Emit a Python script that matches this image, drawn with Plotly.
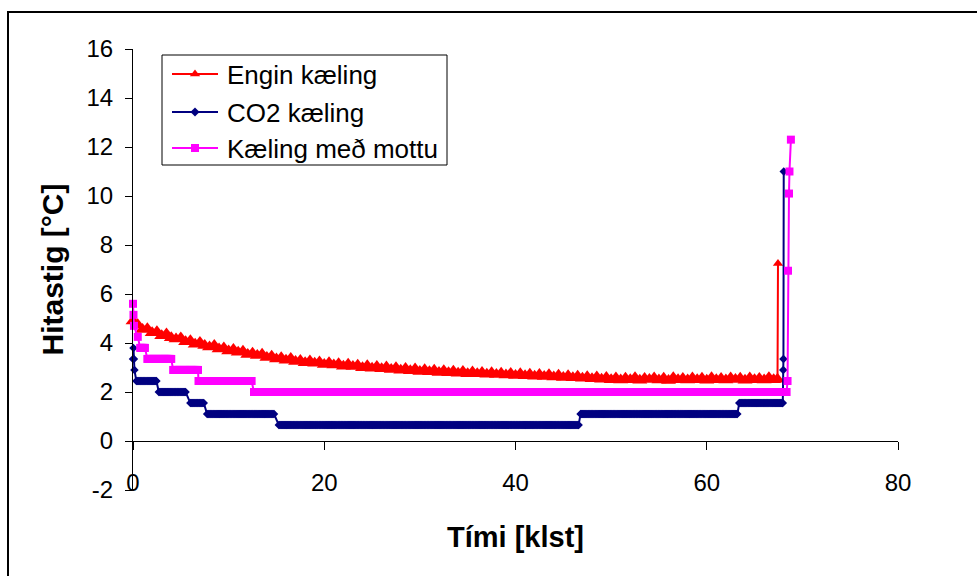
import numpy as np
import plotly.graph_objects as go

# ---------------- data ----------------
# "Engin kæling": logged every 0.5 h from t = 0 h
red_t0 = 0.0
red_dt = 0.5
red_vals = [
    4.90, 4.74, 4.55, 4.58, 4.42, 4.46, 4.30, 4.37, 4.21, 4.16,
    4.20, 4.05, 4.09, 3.95, 4.02, 3.90, 3.84, 3.90, 3.76, 3.80,
    3.67, 3.73, 3.62, 3.66, 3.53, 3.58, 3.49, 3.54, 3.41, 3.46,
    3.35, 3.40, 3.30, 3.37, 3.25, 3.29, 3.19, 3.27, 3.17, 3.22,
    3.12, 3.19, 3.10, 3.15, 3.05, 3.13, 3.04, 3.09, 2.99, 3.07,
    2.97, 3.04, 2.95, 3.02, 2.92, 2.99, 2.89, 2.96, 2.87, 2.94,
    2.84, 2.91, 2.83, 2.89, 2.80, 2.87, 2.79, 2.85, 2.77, 2.84,
    2.75, 2.82, 2.74, 2.80, 2.72, 2.79, 2.71, 2.77, 2.69, 2.76,
    2.67, 2.74, 2.66, 2.72, 2.64, 2.71, 2.63, 2.70, 2.61, 2.68,
    2.59, 2.66, 2.58, 2.64, 2.56, 2.62, 2.54, 2.61, 2.52, 2.59,
    2.50, 2.57, 2.49, 2.56, 2.50, 2.58, 2.48, 2.55, 2.51, 2.57,
    2.49, 2.56, 2.47, 2.58, 2.50, 2.55, 2.49, 2.57, 2.50, 2.56,
    2.48, 2.58, 2.50, 2.55, 2.49, 2.57, 2.51, 2.56, 2.48, 2.57,
    2.50, 2.55, 2.49, 2.58, 2.50,
]
red_end_t = [67.40, 67.45]
red_end_v = [2.52, 7.25]

# "CO2 kæling": logger steps (level, from hour, to hour)
co2_level = [3.35, 3.80, 3.35, 2.90, 2.45, 2.00, 1.55, 1.10, 0.65, 1.10, 1.55, 2.90, 3.35, 11.00]
co2_start = [0.00, 0.05, 0.10, 0.15, 0.35, 2.70, 6.00, 7.75, 15.25, 46.80, 63.40, 68.00, 68.02, 68.05]
co2_end   = [0.00, 0.05, 0.10, 0.15, 2.45, 5.50, 7.40, 14.75, 46.60, 63.20, 67.95, 68.00, 68.02, 68.05]

# "Kæling með mottu": logger steps (level, from hour, to hour)
mat_level = [5.60, 5.15, 4.70, 4.25, 3.80, 3.35, 2.90, 2.45, 2.00, 2.45, 6.95, 10.10, 11.00, 12.30]
mat_start = [0.00, 0.05, 0.10, 0.50, 0.75, 1.50, 4.20, 6.85, 12.65, 68.45, 68.50, 68.60, 68.65, 68.80]
mat_end   = [0.00, 0.05, 0.10, 0.50, 1.25, 4.00, 6.80, 12.40, 68.35, 68.45, 68.50, 68.60, 68.65, 68.80]

log_dt = 0.1  # logging interval of the step series [h]

x_ticks = [0, 20, 40, 60, 80]
y_ticks = [-2, 0, 2, 4, 6, 8, 10, 12, 14, 16]
y_ticktext = ["-2", "0", "2", "4", "6", "8", "10", "12", "14", "16"]

names = ["Engin kæling", "CO2 kæling", "Kæling með mottu"]
colors = ["#FF0000", "#000080", "#FF00FF"]
symbols = ["triangle-up", "diamond", "square"]
legend_sizes = [9, 7, 8]


def expand(levels, starts, ends, dt):
    xs, ys = [], []
    for lv, a, b in zip(levels, starts, ends):
        pts = list(np.arange(a, b + 1e-9, dt))
        if pts[-1] < b - 1e-9:
            pts.append(b)
        xs.extend(pts)
        ys.extend([lv] * len(pts))
    return xs, ys


red_x = [red_t0 + red_dt * i for i in range(len(red_vals))] + red_end_t
red_y = red_vals + red_end_v
co2_x, co2_y = expand(co2_level, co2_start, co2_end, log_dt)
mat_x, mat_y = expand(mat_level, mat_start, mat_end, log_dt)
series = [(red_x, red_y), (co2_x, co2_y), (mat_x, mat_y)]
msizes = [[13] * (len(red_x) - 1) + [9], 6.5, 8]

FONT = "Liberation Sans, Arial, sans-serif"

L, R, T, B = 133, 79, 49, 86
W, H = 977, 576
pw, ph = W - L - R, H - T - B


def px_x(p):
    return (p - L) / pw


def px_y(p):
    return (H - B - p) / ph


fig = go.Figure()
for (sx, sy), nm, c, sym, ms in zip(series, names, colors, symbols, msizes):
    fig.add_trace(go.Scatter(
        x=sx, y=sy, name=nm, mode="lines+markers",
        line=dict(color=c, width=2),
        marker=dict(symbol=sym, size=ms, color=c, opacity=1, line=dict(width=0)),
        cliponaxis=False, showlegend=False))

# ---- legend (drawn on a pixel overlay axis) ----
leg_box = (162, 55, 447, 165)
leg_rows = [74, 112, 148]
leg_line = (172, 218)
leg_text_x = 225
annotations = []
for ry, nm, c, sym, ls in zip(leg_rows, names, colors, symbols, legend_sizes):
    fig.add_trace(go.Scatter(
        x=[leg_line[0], (leg_line[0] + leg_line[1]) / 2, leg_line[1]], y=[ry, ry, ry],
        xaxis="x2", yaxis="y2", mode="lines", line=dict(color=c, width=2),
        showlegend=False, hoverinfo="skip", cliponaxis=False))
    fig.add_trace(go.Scatter(
        x=[(leg_line[0] + leg_line[1]) / 2], y=[ry],
        xaxis="x2", yaxis="y2", mode="markers",
        marker=dict(symbol=sym, size=ls, color=c, line=dict(width=0)),
        showlegend=False, hoverinfo="skip", cliponaxis=False))
    annotations.append(dict(
        text=nm, xref="paper", yref="paper", x=px_x(leg_text_x), y=px_y(ry + 1),
        xanchor="left", yanchor="middle", showarrow=False,
        font=dict(family=FONT, size=26, color="black")))

annotations += [
    dict(text="<b>Hitastig [°C]</b>", xref="paper", yref="paper",
         x=px_x(52), y=0.5, xanchor="center", yanchor="middle",
         textangle=-90, showarrow=False, font=dict(family=FONT, size=30)),
    dict(text="<b>Tími [klst]</b>", xref="paper", yref="paper",
         x=px_x(515), y=px_y(537), xanchor="center", yanchor="middle",
         showarrow=False, font=dict(family=FONT, size=29)),
]

fig.update_layout(
    width=W, height=H,
    margin=dict(l=L, r=R, t=T, b=B, pad=0),
    paper_bgcolor="white", plot_bgcolor="white",
    font=dict(family=FONT, color="black", size=24),
    showlegend=False,
    xaxis=dict(
        range=[0, 80], tickvals=x_ticks, showline=True, linecolor="black", linewidth=1,
        ticks="outside", ticklen=8, tickcolor="black", tickwidth=1,
        showgrid=False, zeroline=False, anchor="free", position=2 / 18,
        tickfont=dict(size=24), ticklabelstandoff=12,
    ),
    yaxis=dict(
        range=[-2, 16], tickvals=y_ticks, ticktext=y_ticktext,
        showline=True, linecolor="black", linewidth=1,
        ticks="outside", ticklen=7, tickcolor="black", tickwidth=1,
        showgrid=False, zeroline=False,
        tickfont=dict(size=24), ticklabelstandoff=7,
    ),
    xaxis2=dict(overlaying="x", range=[L, W - R], visible=False, fixedrange=True),
    yaxis2=dict(overlaying="y", range=[H - B, T], visible=False, fixedrange=True),
    annotations=annotations,
    shapes=[
        dict(type="rect", xref="paper", yref="paper", layer="below",
             x0=px_x(leg_box[0]), x1=px_x(leg_box[2]),
             y0=px_y(leg_box[3]), y1=px_y(leg_box[1]),
             line=dict(color="black", width=1), fillcolor="white"),
        dict(type="path", xref="paper", yref="paper",
             path=f"M {px_x(8)},{px_y(585)} L {px_x(8)},{px_y(12)} L {px_x(985)},{px_y(12)}",
             line=dict(color="black", width=2)),
    ],
)

fig.write_html("out.html")
